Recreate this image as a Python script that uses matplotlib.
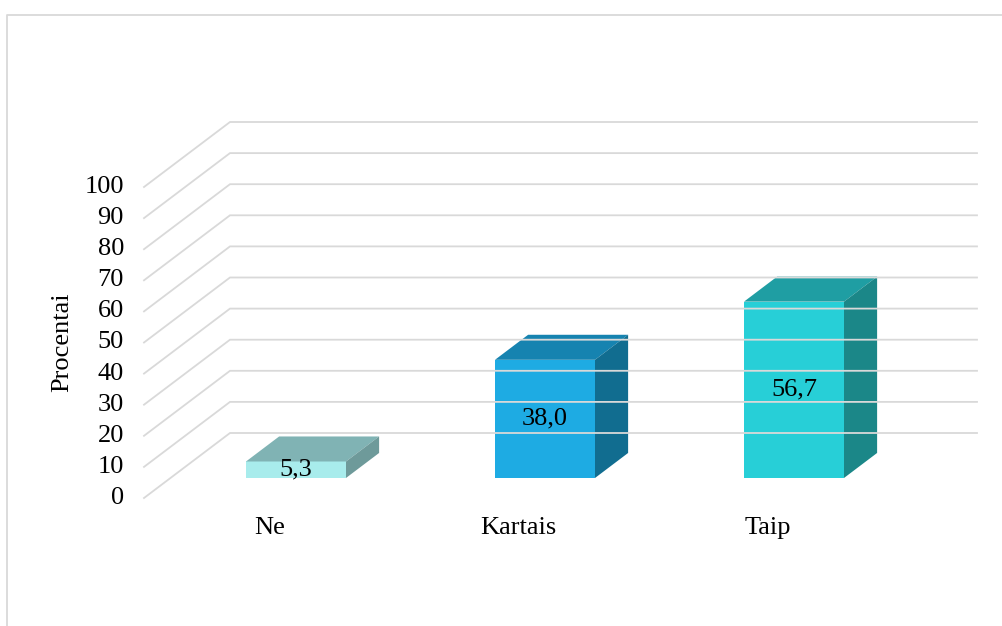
import matplotlib.pyplot as plt
from matplotlib.patches import Polygon

plt.rcParams['font.family'] = ['Liberation Serif', 'DejaVu Serif']

# data
categories = ["Ne", "Kartais", "Taip"]
values = [5.3, 38.0, 56.7]
value_labels = ["5,3", "38,0", "56,7"]
y_ticks = list(range(0, 101, 10))

front_colors = ["#A8ECEC", "#1EABE3", "#27CFD7"]
top_colors = ["#80B3B4", "#1683B0", "#1F9EA3"]
side_colors = ["#6E9A9A", "#116D90", "#1B8788"]

# layout (pixels of a 1002x626 picture)
W, H = 1002, 626
X0_PX, PX_PER_CAT = 296, 249        # centre of first bar front face
Y0_PX, PX_PER_PCT = 498, 3.11       # front edge of the floor
DEPTH_DX, DEPTH_DY = 86 / PX_PER_CAT, 65 / PX_PER_PCT   # full depth of the box
BAR_T0, BAR_T = 0.308, 0.385        # bar front position and depth (fraction)
BAR_W = 100 / PX_PER_CAT
GRID_LEFT = (144 - X0_PX) / PX_PER_CAT
GRID_RIGHT = (977 - X0_PX) / PX_PER_CAT
GRID_COLOR = "#D9D9D9"
FS = 19

fig = plt.figure(figsize=(W / 100, H / 100), dpi=100)
ax = fig.add_axes([0, 0, 1, 1])
ax.set_xlim(-X0_PX / PX_PER_CAT, (W - X0_PX) / PX_PER_CAT)
ax.set_ylim((Y0_PX - H) / PX_PER_PCT, Y0_PX / PX_PER_PCT)
ax.axis("off")


def px_x(px):
    return (px - X0_PX) / PX_PER_CAT


def px_y(py):
    return (Y0_PX - py) / PX_PER_PCT


# chart border (left and top, the rest runs off the picture)
ax.plot([px_x(7), px_x(7), px_x(1010)], [px_y(640), px_y(15), px_y(15)],
        color=GRID_COLOR, lw=1.3, solid_capstyle="butt", clip_on=False)

# gridlines: side wall diagonal + back wall horizontal
for v in y_ticks:
    ax.plot([GRID_LEFT, GRID_LEFT + DEPTH_DX, GRID_RIGHT],
            [v, v + DEPTH_DY, v + DEPTH_DY], color=GRID_COLOR, lw=1.3,
            solid_joinstyle="miter")
    ax.text(px_x(124), v, str(v), ha="right", va="center", fontsize=FS)

# bars
ddx, ddy = DEPTH_DX * BAR_T, DEPTH_DY * BAR_T
for i, v in enumerate(values):
    xl = i - BAR_W / 2
    xr = i + BAR_W / 2
    b = DEPTH_DY * BAR_T0
    top = b + v
    ax.add_patch(Polygon([(xl, b), (xr, b), (xr, top), (xl, top)],
                         closed=True, fc=front_colors[i], ec="none"))
    ax.add_patch(Polygon([(xl, top), (xr, top), (xr + ddx, top + ddy), (xl + ddx, top + ddy)],
                         closed=True, fc=top_colors[i], ec="none"))
    ax.add_patch(Polygon([(xr, b), (xr, top), (xr + ddx, top + ddy), (xr + ddx, b + ddy)],
                         closed=True, fc=side_colors[i], ec="none"))
    ax.text(i, b + v / 2, value_labels[i], ha="center", va="center", fontsize=FS)
    ax.text(i - DEPTH_DX * BAR_T0, px_y(528), categories[i], ha="center", va="center",
            fontsize=FS)

ax.text(px_x(62), 50, "Procentai", rotation=90, ha="center", va="center", fontsize=FS)

fig.savefig("out.png", dpi=100)
